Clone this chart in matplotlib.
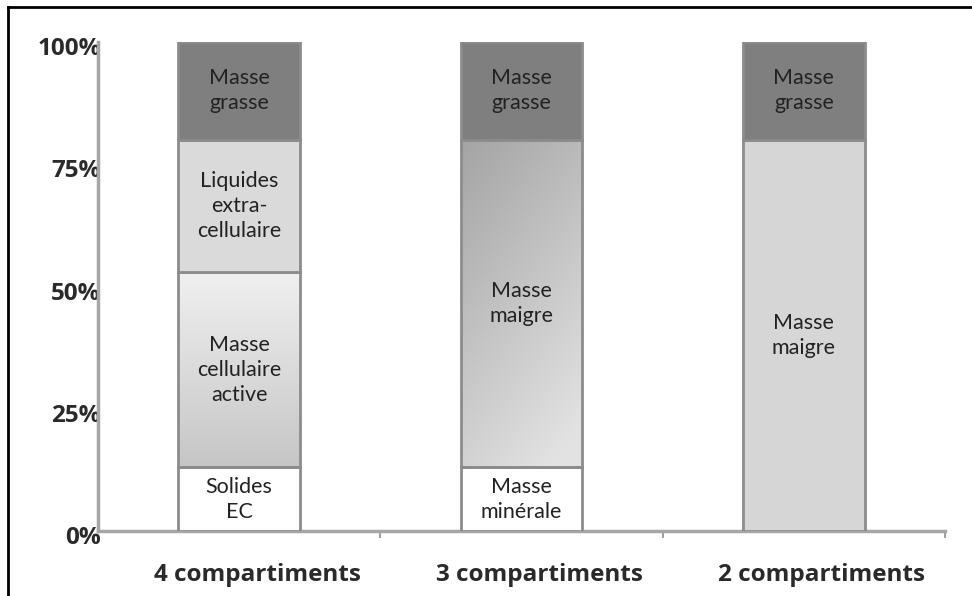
import numpy as np
import matplotlib
matplotlib.use("Agg")
import matplotlib.pyplot as plt
from matplotlib.lines import Line2D
from matplotlib.ticker import FixedLocator
import matplotlib.transforms as mtransforms

plt.rcParams['font.family'] = ['Lato', 'DejaVu Sans']

categories = ["4 compartiments", "3 compartiments", "2 compartiments"]
y_ticks = [0, 25, 50, 75, 100]
y_tick_labels = ["0%", "25%", "50%", "75%", "100%"]

# segments per bar, bottom to top: (label, value %)
seg_4 = [("Solides\nEC", 13), ("Masse\ncellulaire\nactive", 40),
         ("Liquides\nextra-\ncellulaire", 27), ("Masse\ngrasse", 20)]
seg_3 = [("Masse\nminérale", 13), ("Masse\nmaigre", 67), ("Masse\ngrasse", 20)]
seg_2 = [("Masse\nmaigre", 80), ("Masse\ngrasse", 20)]
segments = [seg_4, seg_3, seg_2]

# fill style per segment: either solid colour or gradient
styles = [
    [("solid", "#ffffff"), ("vgrad", ("#f0f0f0", "#c6c6c6")),
     ("solid", "#dadada"), ("solid", "#7f7f7f")],
    [("solid", "#ffffff"), ("dgrad", ("#a4a4a4", "#e2e2e2")), ("solid", "#7f7f7f")],
    [("solid", "#d6d6d6"), ("solid", "#7f7f7f")],
]

fig = plt.figure(figsize=(9.72, 5.96), dpi=100)
ax = fig.add_axes([98/972, 1-531/596, (945-98)/972, (531-42)/596])

x = np.arange(len(categories))
width = 0.43
edge = "#8c8c8c"

def hex2rgb(h):
    h = h.lstrip('#')
    return np.array([int(h[i:i+2], 16)/255 for i in (0, 2, 4)])

for i, segs in enumerate(segments):
    bottom = 0
    for j, (lab, val) in enumerate(segs):
        kind, col = styles[i][j]
        face = col if kind == "solid" else "none"
        bars = ax.bar(x[i], val, width, bottom=bottom, color=face,
                      edgecolor=edge, linewidth=2, zorder=3)
        patch = bars[0]
        if kind != "solid":
            c1, c2 = hex2rgb(col[0]), hex2rgb(col[1])
            n = 100
            yy, xx = np.mgrid[0:1:n*1j, 0:1:n*1j]
            if kind == "vgrad":
                t = yy
            else:
                t = np.clip(0.75*yy + 0.35*xx, 0, 1)
            img = c1[None, None, :]*(1-t[..., None]) + c2[None, None, :]*t[..., None]
            x0 = x[i] - width/2
            im = ax.imshow(img, extent=(x0, x0+width, bottom, bottom+val),
                           origin='upper', aspect='auto', zorder=2,
                           interpolation='bilinear')
            im.set_clip_path(patch)
        ax.text(x[i], bottom + val/2, lab, ha='center', va='center',
                fontsize=15.5, color="#222222", linespacing=1.32, zorder=4)
        bottom += val

ax.set_xlim(-0.5, 2.5)
ax.set_ylim(0, 100)
ax.set_yticks(y_ticks)
ax.set_yticklabels(y_tick_labels, fontsize=17.5, fontweight='bold', color="#2a2a2a",
                   family=['Open Sans', 'DejaVu Sans'])
ax.set_xticks(x)
ax.set_xticklabels(categories, fontsize=17.5, fontweight='bold', color="#2a2a2a",
                   family=['Open Sans', 'DejaVu Sans'])
ax.xaxis.set_minor_locator(FixedLocator([0.5, 1.5, 2.5]))
ax.tick_params(axis='x', which='major', length=0, pad=23)
ax.tick_params(axis='x', which='minor', length=5, width=1.5, color="#a0a0a0")
ax.tick_params(axis='y', length=0, pad=-2)
yoff = mtransforms.ScaledTranslation(0, -4/100, fig.dpi_scale_trans)
for lbl in ax.get_yticklabels():
    lbl.set_transform(lbl.get_transform() + yoff)
xoff = mtransforms.ScaledTranslation(18/100, 0, fig.dpi_scale_trans)
for lbl in ax.get_xticklabels():
    lbl.set_transform(lbl.get_transform() + xoff)
for s in ("top", "right"):
    ax.spines[s].set_visible(False)
for s in ("left", "bottom"):
    ax.spines[s].set_color("#a6a6a6")
    ax.spines[s].set_linewidth(2.5)

# frame lines (left and top only)
fig.add_artist(Line2D([8/972, 8/972], [0, 1-7/596], transform=fig.transFigure,
                      color="black", lw=2))
fig.add_artist(Line2D([8/972, 1], [1-7/596, 1-7/596], transform=fig.transFigure,
                      color="black", lw=2))

fig.savefig("out.png", dpi=100)
